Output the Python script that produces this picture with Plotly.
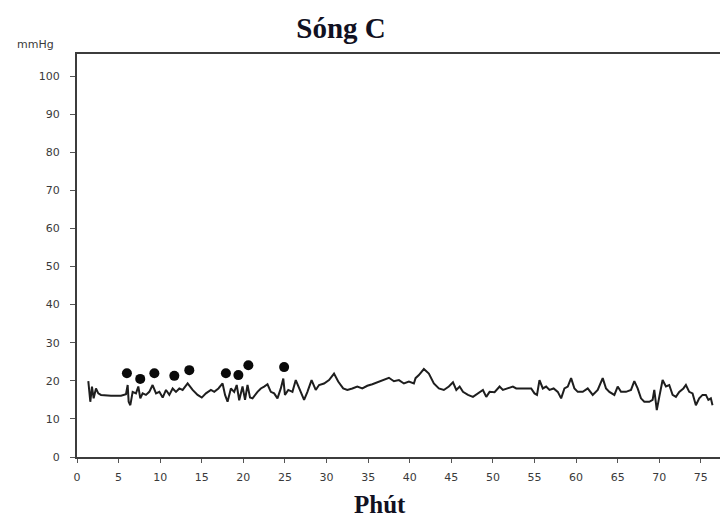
import plotly.graph_objects as go

# Pressure trace (minutes, mmHg)
minutes = [1.36, 1.6, 1.8, 2.0, 2.28, 2.56, 2.88, 4.09, 5.29, 5.89, 6.09, 6.21, 6.41, 6.69,
           7.09, 7.37, 7.61, 7.89, 8.29, 8.69, 9.09, 9.5, 9.9, 10.3, 10.7, 11.1, 11.5, 11.9,
           12.3, 12.7, 13.3, 13.9, 14.5, 15.0, 15.5, 16.1, 16.5, 17.0, 17.5, 17.8, 18.1, 18.5,
           18.9, 19.2, 19.5, 19.9, 20.2, 20.5, 20.8, 21.1, 21.7, 22.1, 22.5, 22.9, 23.3, 23.7,
           24.1, 24.5, 24.8, 25.0, 25.4, 25.9, 26.3, 26.7, 27.3, 27.7, 28.2, 28.7, 29.1, 29.7,
           30.3, 30.9, 31.4, 32.0, 32.5, 33.1, 33.7, 34.3, 34.9, 35.5, 36.3, 36.9, 37.5, 38.1,
           38.7, 39.3, 39.9, 40.5, 40.7, 41.1, 41.7, 42.3, 42.9, 43.5, 44.1, 44.7, 45.2, 45.6,
           46.0, 46.4, 47.0, 47.6, 48.2, 48.8, 49.2, 49.6, 50.2, 50.8, 51.2, 51.8, 52.4, 52.8,
           53.4, 54.0, 54.6, 55.0, 55.3, 55.6, 56.0, 56.4, 56.8, 57.3, 57.8, 58.2, 58.6, 59.0,
           59.4, 59.8, 60.2, 60.8, 61.4, 62.0, 62.6, 63.2, 63.6, 64.0, 64.6, 65.0, 65.4, 66.0,
           66.6, 67.0, 67.4, 67.8, 68.2, 68.8, 69.2, 69.4, 69.7, 70.0, 70.4, 70.8, 71.2, 71.6,
           72.0, 72.4, 72.9, 73.2, 73.6, 74.0, 74.4, 74.8, 75.2, 75.6, 75.9, 76.2, 76.4]
pressure = [19.9, 14.5, 18.5, 15.4, 18.0, 16.7, 16.3, 16.1, 16.1, 16.5, 18.9, 14.5, 13.6, 17.1,
            16.7, 18.5, 15.4, 16.7, 16.3, 17.1, 18.9, 16.7, 17.1, 15.6, 17.6, 16.3, 18.0, 17.1,
            18.0, 17.6, 19.3, 17.6, 16.3, 15.6, 16.7, 17.6, 17.1, 18.0, 19.3, 16.3, 14.5, 18.0,
            17.1, 18.9, 14.9, 18.5, 15.0, 18.9, 15.6, 15.4, 17.1, 18.0, 18.5, 19.1, 17.1, 16.7,
            15.4, 18.0, 20.6, 16.3, 17.6, 17.1, 20.2, 18.0, 15.0, 17.1, 20.2, 17.6, 18.9, 19.3,
            20.2, 21.9, 19.8, 18.0, 17.6, 18.0, 18.5, 18.0, 18.7, 19.1, 19.8, 20.2, 20.8, 19.9,
            20.2, 19.3, 19.8, 19.3, 20.7, 21.5, 23.1, 21.9, 19.3, 18.0, 17.6, 18.5, 19.6, 17.6,
            18.5, 17.1, 16.3, 15.8, 16.7, 17.6, 15.8, 17.1, 17.0, 18.5, 17.6, 18.0, 18.5, 18.0,
            18.0, 17.9, 18.0, 16.7, 16.3, 20.2, 18.0, 18.5, 17.6, 18.0, 17.1, 15.4, 18.0, 18.5,
            20.7, 18.0, 17.1, 17.1, 18.0, 16.3, 17.6, 20.7, 18.0, 17.1, 16.3, 18.5, 17.1, 17.1,
            17.6, 19.9, 18.0, 15.4, 14.5, 14.5, 15.0, 17.6, 12.3, 15.8, 20.2, 18.5, 18.9, 16.3,
            15.8, 17.1, 18.0, 18.9, 17.1, 16.7, 13.6, 15.4, 16.3, 16.3, 15.0, 15.4, 13.6]

# Marked contraction peaks
peak_minutes = [6.0, 7.6, 9.3, 11.7, 13.5, 17.9, 19.4, 20.6, 24.9]
peak_pressure = [22.0, 20.5, 22.0, 21.3, 22.8, 22.0, 21.5, 24.1, 23.6]

x_ticks = list(range(0, 80, 5))
y_ticks = list(range(0, 110, 10))

fig = go.Figure()
fig.add_trace(go.Scatter(
    x=minutes, y=pressure, mode="lines",
    line=dict(color="#1e1e1e", width=2),
    showlegend=False, hoverinfo="skip",
))
fig.add_trace(go.Scatter(
    x=peak_minutes, y=peak_pressure, mode="markers",
    marker=dict(color="#0a0a0a", size=10, symbol="circle"),
    showlegend=False,
))

axis_font = dict(family="DejaVu Sans, sans-serif", size=11, color="#3a3a3a")
serif = "Liberation Serif, Times New Roman, serif"

fig.update_xaxes(
    range=[0, 77.3], tickvals=x_ticks, ticktext=[str(v) for v in x_ticks],
    showgrid=False, zeroline=False,
    showline=True, linecolor="#3c3c3c", linewidth=2, mirror=True,
    ticks="outside", ticklen=4, tickwidth=1, tickcolor="#555",
    tickfont=axis_font, ticklabelstandoff=5,
)
fig.update_yaxes(
    range=[0, 105.8], tickvals=y_ticks, ticktext=[str(v) for v in y_ticks],
    showgrid=False, zeroline=False,
    showline=True, linecolor="#3c3c3c", linewidth=2, mirror=False,
    ticks="outside", ticklen=5, tickwidth=1, tickcolor="#555",
    tickfont=axis_font, ticklabelstandoff=8,
)

fig.update_layout(
    width=720, height=520,
    margin=dict(l=77, r=0, t=54, b=63),
    paper_bgcolor="white", plot_bgcolor="white",
    title=dict(
        text="<b>Sóng C</b>", x=341 / 720, xref="container", xanchor="center",
        y=1 - 28 / 520, yref="container", yanchor="middle",
        font=dict(family=serif, size=29, color="#111122"),
    ),
    annotations=[
        dict(text="<b>Phút</b>", xref="paper", yref="paper",
             x=(380 - 77) / 643, y=-(504 - 457) / 403, xanchor="center", yanchor="middle",
             showarrow=False,
             font=dict(family=serif, size=25, color="#111122")),
        dict(text="mmHg", xref="paper", yref="paper",
             x=(35 - 77) / 643, y=(457 - 45) / 403, xanchor="center", yanchor="middle",
             showarrow=False,
             font=dict(family="DejaVu Sans, sans-serif", size=11, color="#3a3a3a")),
    ],
)

fig.write_html("out.html")
